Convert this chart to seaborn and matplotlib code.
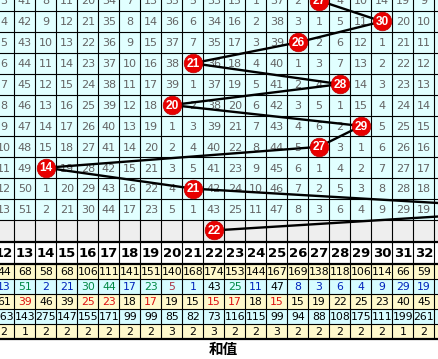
import matplotlib
matplotlib.use("Agg")
import matplotlib.pyplot as plt
import seaborn as sns
import pandas as pd

# ---------------- data ----------------
cols = list(range(12, 33))
sums = [27, 30, 26, 21, 28, 20, 29, 27, 14, 21, 38, 22]

omission_rows = [
    [3, 41, 8, 11, 20, 34, 7, 13, 35, 5, 33, 15, 1, 37, 2, 0, 4, 10, 14, 19, 9],
    [4, 42, 9, 12, 21, 35, 8, 14, 36, 6, 34, 16, 2, 38, 3, 1, 5, 11, 0, 20, 10],
    [5, 43, 10, 13, 22, 36, 9, 15, 37, 7, 35, 17, 3, 39, 0, 2, 6, 12, 1, 21, 11],
    [6, 44, 11, 14, 23, 37, 10, 16, 38, 0, 36, 18, 4, 40, 1, 3, 7, 13, 2, 22, 12],
    [7, 45, 12, 15, 24, 38, 11, 17, 39, 1, 37, 19, 5, 41, 2, 4, 0, 14, 3, 23, 13],
    [8, 46, 13, 16, 25, 39, 12, 18, 0, 2, 38, 20, 6, 42, 3, 5, 1, 15, 4, 24, 14],
    [9, 47, 14, 17, 26, 40, 13, 19, 1, 3, 39, 21, 7, 43, 4, 6, 2, 0, 5, 25, 15],
    [10, 48, 15, 18, 27, 41, 14, 20, 2, 4, 40, 22, 8, 44, 5, 0, 3, 1, 6, 26, 16],
    [11, 49, 0, 19, 28, 42, 15, 21, 3, 5, 41, 23, 9, 45, 6, 1, 4, 2, 7, 27, 17],
    [12, 50, 1, 20, 29, 43, 16, 22, 4, 0, 42, 24, 10, 46, 7, 2, 5, 3, 8, 28, 18],
    [13, 51, 2, 21, 30, 44, 17, 23, 5, 1, 43, 25, 11, 47, 8, 3, 6, 4, 9, 29, 19],
]

stat_count = [44, 68, 58, 68, 106, 111, 141, 151, 140, 168, 174, 153, 144, 167, 169, 138, 118, 106, 114, 66, 59]
stat_current = [13, 51, 2, 21, 30, 44, 17, 23, 5, 1, 43, 25, 11, 47, 8, 3, 6, 4, 9, 29, 19]
stat_current_colors = ["b", "g", "b", "b", "g", "g", "b", "g", "r2", "b", "k", "g", "b", "k", "b", "b", "b", "b", "b", "b", "b"]
stat_avg = [61, 39, 46, 39, 25, 23, 18, 17, 19, 15, 15, 17, 18, 15, 15, 19, 22, 25, 23, 40, 45]
stat_avg_colors = ["k", "r", "k", "k", "r", "r", "k", "r", "k", "k", "r", "r", "k", "r", "k", "k", "k", "k", "k", "k", "k"]
stat_max = [163, 143, 275, 147, 155, 171, 99, 99, 85, 82, 73, 116, 115, 99, 94, 88, 108, 175, 111, 199, 261]
stat_streak = [2, 1, 2, 2, 2, 2, 2, 2, 3, 2, 3, 2, 2, 3, 2, 2, 2, 2, 2, 1, 2]
x_title = "和值"

# ---------------- style ----------------
sns.set_theme(style="white")
plt.rcParams['font.family'] = ['DejaVu Sans']

palette = {"b": "#0022BB", "g": "#008844", "r": "#DD1111", "r2": "#AA3344", "k": "#000000"}
CYAN = "#E1FFFF"
GRAY = "#EEEEEE"
YELLOW = "#FFF9CC"
CYAN2 = "#D6FCFF"

fig = plt.figure(figsize=(4.38, 3.59), dpi=100)
ax = fig.add_axes([0, 0, 1, 1])

ROW_H = 20.9
def row_y(r):
    return 0.55 + ROW_H * r

grid_bottom = 11 + ROW_H * 10
gray_bottom = 242
head_bottom = 264
STAT_H = 15

# backgrounds
ax.axhspan(-5, grid_bottom, color=CYAN, zorder=0, lw=0)
ax.axhspan(grid_bottom, gray_bottom, color=GRAY, zorder=0, lw=0)
ax.axhspan(gray_bottom, head_bottom, color="white", zorder=0, lw=0)
stat_bg = [YELLOW, CYAN2, YELLOW, CYAN2, YELLOW]
for i, c in enumerate(stat_bg):
    ax.axhspan(head_bottom + i * STAT_H, head_bottom + (i + 1) * STAT_H, color=c, zorder=0, lw=0)

# grid lines
xmin_c, xmax_c = cols[0] - 1.5, cols[-1] + 1.5
for k in range(11):
    ax.hlines(11 + ROW_H * k, xmin_c, xmax_c, color="black", lw=0.8, zorder=1)
for yy in [head_bottom + i * STAT_H for i in range(1, 5)]:
    ax.hlines(yy, xmin_c, xmax_c, color="black", lw=0.8, zorder=1)
for yy in [gray_bottom, head_bottom, head_bottom + 5 * STAT_H]:
    ax.hlines(yy, xmin_c, xmax_c, color="black", lw=1.6, zorder=1)
for c in range(cols[0] - 1, cols[-1] + 2):
    ax.vlines(c + 0.5, -5, head_bottom + 5 * STAT_H, color="black", lw=0.8, zorder=1)

# omission numbers
for r, row in enumerate(omission_rows):
    for c, v in zip(cols, row):
        if v:
            ax.text(c, row_y(r) + 0.8, str(v), ha="center", va="center",
                    fontsize=8, color="#636363", zorder=2, clip_on=True)

# trend line + balls
df = pd.DataFrame({"sum": sums, "y": [row_y(r) for r in range(len(sums))]})
sns.lineplot(data=df, x="sum", y="y", sort=False, estimator=None, color="black",
             lw=1.7, ax=ax, zorder=3)
sns.scatterplot(data=df, x="sum", y="y", s=180, color="#E80000", edgecolor="#C00000",
                linewidth=0.5, ax=ax, zorder=4, legend=False)
for r, s in enumerate(sums):
    ax.text(s, row_y(r) + 0.6, str(s), ha="center", va="center", color="white",
            fontsize=8.6, fontweight="bold", family="Liberation Sans", zorder=5, clip_on=True)

# header
for c in cols:
    ax.text(c, (gray_bottom + head_bottom) / 2 + 0.8, str(c), ha="center", va="center",
            fontsize=9.5, fontweight="bold", color="black", zorder=2)

# statistic rows
def stat_row(i, vals, colors=None):
    yc = head_bottom + (i + 0.5) * STAT_H + 0.6
    for j, (c, v) in enumerate(zip(cols, vals)):
        col = palette[colors[j]] if colors else "black"
        ax.text(c, yc, str(v), ha="center", va="center", fontsize=7.8, color=col, zorder=2)

stat_row(0, stat_count)
stat_row(1, stat_current, stat_current_colors)
stat_row(2, stat_avg, stat_avg_colors)
stat_row(3, stat_max)
stat_row(4, stat_streak)

ax.text(22.43, 349, x_title, ha="center", va="center", fontsize=10.5, fontweight="bold",
        family=["Noto Sans CJK SC", "DejaVu Sans"], color="black")

ax.set_xlim(cols[0] - 4 / 21, cols[0] - 4 / 21 + 438 / 21)
ax.set_ylim(359, 0)
ax.axis("off")

fig.savefig("out.png", dpi=100)
